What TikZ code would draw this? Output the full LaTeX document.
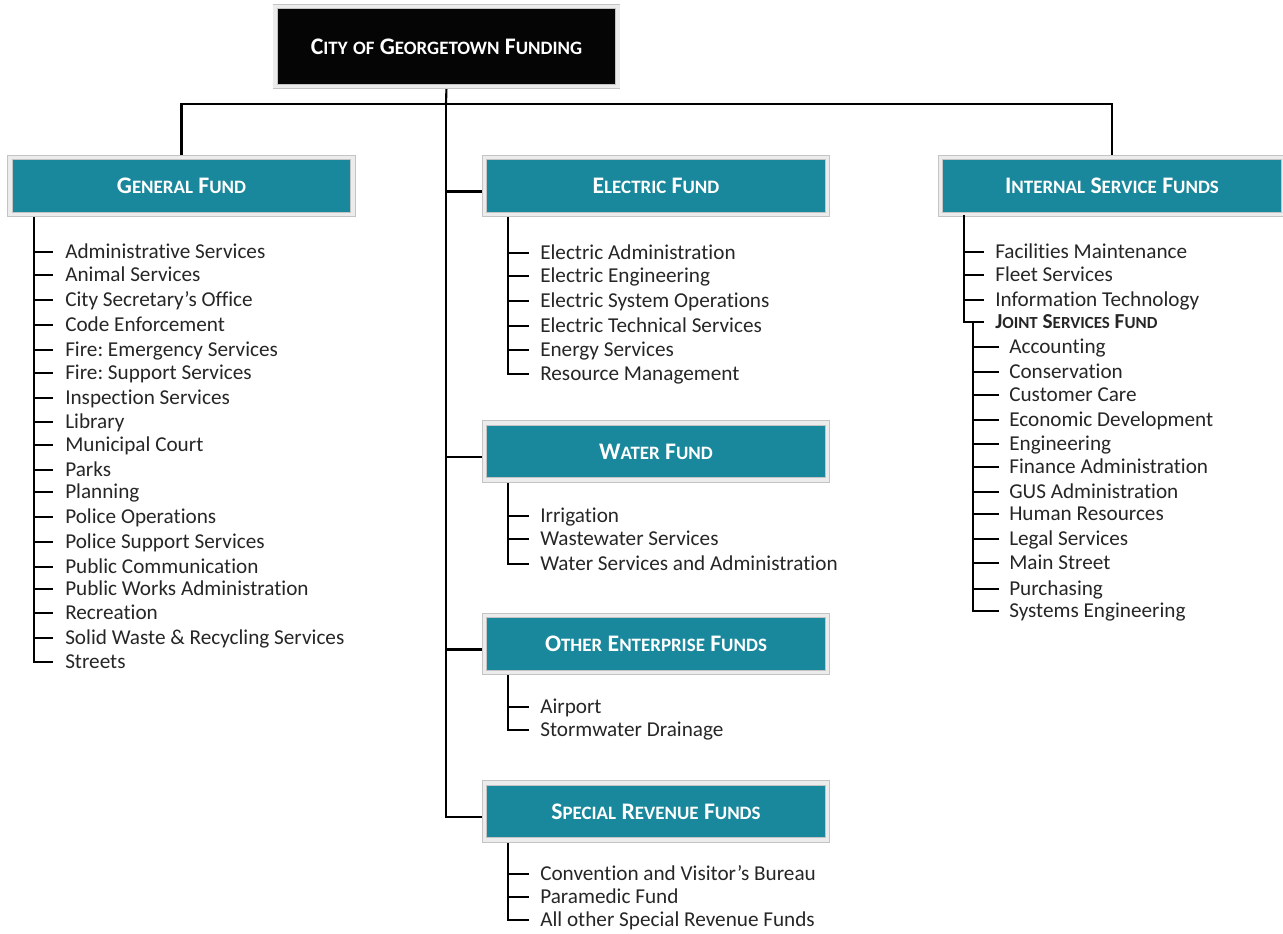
\documentclass[tikz,border=0pt]{standalone}
\usepackage{fontspec}
\setmainfont[Ligatures={NoCommon},Contextuals={NoAlternate}]{Carlito}
\usetikzlibrary{calc,backgrounds}
\frenchspacing

\definecolor{fundteal}{HTML}{1A889C}
\definecolor{titleblack}{HTML}{050505}
\definecolor{framegray}{HTML}{C4C4C4}
\definecolor{frameband}{HTML}{ECECEC}
\definecolor{entrytext}{HTML}{262626}

% fake small caps: first letter full size, the rest as smaller capitals
\newcommand\hdsc[2]{#1{\fontsize{14.2pt}{17pt}\selectfont #2}}
\newcommand\jtsc[2]{#1{\fontsize{12.7pt}{15pt}\selectfont #2}}

\tikzset{
  framed/.style={draw=framegray, double=frameband, double distance=2.6pt,
    line width=0.6pt, inner sep=0pt, text=white,
    font=\bfseries\fontsize{17.8pt}{21pt}\selectfont},
  fundbox/.style={framed, fill=fundteal, minimum width=257.25pt, minimum height=42.75pt},
  titlebox/.style={framed, fill=titleblack, minimum width=257pt, minimum height=60pt},
  listentry/.style={anchor=west, inner xsep=0pt, inner ysep=0pt,
    text height=10.2pt, text depth=0pt, text=entrytext,
    font=\fontsize{15.9pt}{19pt}\selectfont},
  jointentry/.style={listentry, font=\bfseries\fontsize{16pt}{19pt}\selectfont},
  treeline/.style={line width=1.6pt, black},
}

\begin{document}
\begin{tikzpicture}[x=0.75pt, y=-0.75pt]
\useasboundingbox (0,0) rectangle (1283,934);

% ---- boxes ----
\node[titlebox] (title) at (446.5,46.5) {\hdsc{C}{ITY} \hdsc{}{OF} \hdsc{G}{EORGETOWN} \hdsc{F}{UNDING}};
\node[fundbox] (gf)  at (181.5,186)   {\hdsc{G}{ENERAL} \hdsc{F}{UND}};
\node[fundbox] (ef)  at (656,186)     {\hdsc{E}{LECTRIC} \hdsc{F}{UND}};
\node[fundbox] (isf) at (1112,186)    {\hdsc{I}{NTERNAL} \hdsc{S}{ERVICE} \hdsc{F}{UNDS}};
\node[fundbox] (wf)  at (656,451.5)   {\hdsc{W}{ATER} \hdsc{F}{UND}};
\node[fundbox] (oef) at (656,644)     {\hdsc{O}{THER} \hdsc{E}{NTERPRISE} \hdsc{F}{UNDS}};
\node[fundbox] (srf) at (656,811.5)   {\hdsc{S}{PECIAL} \hdsc{R}{EVENUE} \hdsc{F}{UNDS}};

% ---- top level connectors ----
\begin{scope}[on background layer]
  \coordinate (hub) at (446,104);
  \draw[treeline] (title.south) -- (hub);
  \draw[treeline] (gf.north) |- (hub) -| (isf.north);
  \coordinate (efin)  at ($(ef.west)+(0,5.5)$);
  \coordinate (wfin)  at ($(wf.west)+(0,5.5)$);
  \coordinate (oefin) at ($(oef.west)+(0,5.5)$);
  \coordinate (srfin) at ($(srf.west)+(0,5.5)$);
  \draw[treeline] (hub) |- (srfin);
  \draw[treeline] (hub |- efin) -- (efin);
  \draw[treeline] (hub |- wfin) -- (wfin);
  \draw[treeline] (hub |- oefin) -- (oefin);
\end{scope}

% ---- General Fund ----
\coordinate (gtrunk) at ($(gf.south west)+(24,0)$);
\foreach \y/\t [count=\i] in {252/Administrative Services, 275/Animal Services,
  300/City Secretary’s Office, 325/Code Enforcement, 350/Fire: Emergency Services,
  373/Fire: Support Services, 398/Inspection Services, 422/Library,
  445/Municipal Court, 470/Parks, 492/Planning, 517/Police Operations,
  542/Police Support Services, 567/Public Communication,
  589/Public Works Administration, 613/Recreation,
  638/Solid Waste \& Recycling Services, 662/Streets} {
  \node[listentry] (g\i) at (65,\y) {\t};
  \draw[treeline] (gtrunk |- g\i.west) -- ($(g\i.west)+(-12,0)$);
}
\begin{scope}[on background layer]
  \draw[treeline] (gtrunk) |- ($(g18.west)+(-12,0)$);
\end{scope}

% ---- Electric Fund ----
\coordinate (etrunk) at ($(ef.south west)+(24,0)$);
\foreach \y/\t [count=\i] in {253/Electric Administration, 276/Electric Engineering,
  301/Electric System Operations, 326/Electric Technical Services,
  350/Energy Services, 374/Resource Management} {
  \node[listentry] (e\i) at (540,\y) {\t};
  \draw[treeline] (etrunk |- e\i.west) -- ($(e\i.west)+(-11,0)$);
}
\begin{scope}[on background layer]
  \draw[treeline] (etrunk) |- ($(e6.west)+(-11,0)$);
\end{scope}

% ---- Water Fund ----
\coordinate (wtrunk) at ($(wf.south west)+(24,0)$);
\foreach \y/\t [count=\i] in {516/Irrigation, 539/Wastewater Services,
  564/Water Services and Administration} {
  \node[listentry] (w\i) at (540,\y) {\t};
  \draw[treeline] (wtrunk |- w\i.west) -- ($(w\i.west)+(-11,0)$);
}
\begin{scope}[on background layer]
  \draw[treeline] (wtrunk) |- ($(w3.west)+(-11,0)$);
\end{scope}

% ---- Other Enterprise Funds ----
\coordinate (otrunk) at ($(oef.south west)+(24,0)$);
\foreach \y/\t [count=\i] in {707/Airport, 730/Stormwater Drainage} {
  \node[listentry] (o\i) at (540,\y) {\t};
  \draw[treeline] (otrunk |- o\i.west) -- ($(o\i.west)+(-11,0)$);
}
\begin{scope}[on background layer]
  \draw[treeline] (otrunk) |- ($(o2.west)+(-11,0)$);
\end{scope}

% ---- Special Revenue Funds ----
\coordinate (strunk) at ($(srf.south west)+(24,0)$);
\foreach \y/\t [count=\i] in {874/Convention and Visitor’s Bureau, 897/Paramedic Fund,
  920/All other Special Revenue Funds} {
  \node[listentry] (s\i) at (540,\y) {\t};
  \draw[treeline] (strunk |- s\i.west) -- ($(s\i.west)+(-11,0)$);
}
\begin{scope}[on background layer]
  \draw[treeline] (strunk) |- ($(s3.west)+(-11,0)$);
\end{scope}

% ---- Internal Service Funds ----
\coordinate (itrunk) at ($(isf.south west)+(24,0)$);
\foreach \y/\t [count=\i] in {252/Facilities Maintenance, 275/Fleet Services,
  300/Information Technology} {
  \node[listentry] (i\i) at (995,\y) {\t};
  \draw[treeline] (itrunk |- i\i.west) -- ($(i\i.west)+(-11,0)$);
}
\node[jointentry] (joint) at (995,322) {\jtsc{J}{OINT} \jtsc{S}{ERVICES} \jtsc{F}{UND}};
\draw[treeline] (itrunk) |- ($(joint.west)+(-11,0)$);

% ---- Joint Services Fund ----
\coordinate (jtrunk) at ($(joint.west)+(-22,0)$);
\foreach \y/\t [count=\i] in {347/Accounting, 372/Conservation, 395/Customer Care,
  420/Economic Development, 444/Engineering, 467/Finance Administration,
  492/GUS Administration, 514/Human Resources, 539/Legal Services,
  563/Main Street, 589/Purchasing, 611/Systems Engineering} {
  \node[listentry] (j\i) at (1009,\y) {\t};
  \draw[treeline] (jtrunk |- j\i.west) -- ($(j\i.west)+(-10,0)$);
}
\draw[treeline] (jtrunk) |- ($(j12.west)+(-10,0)$);
\end{tikzpicture}
\end{document}
